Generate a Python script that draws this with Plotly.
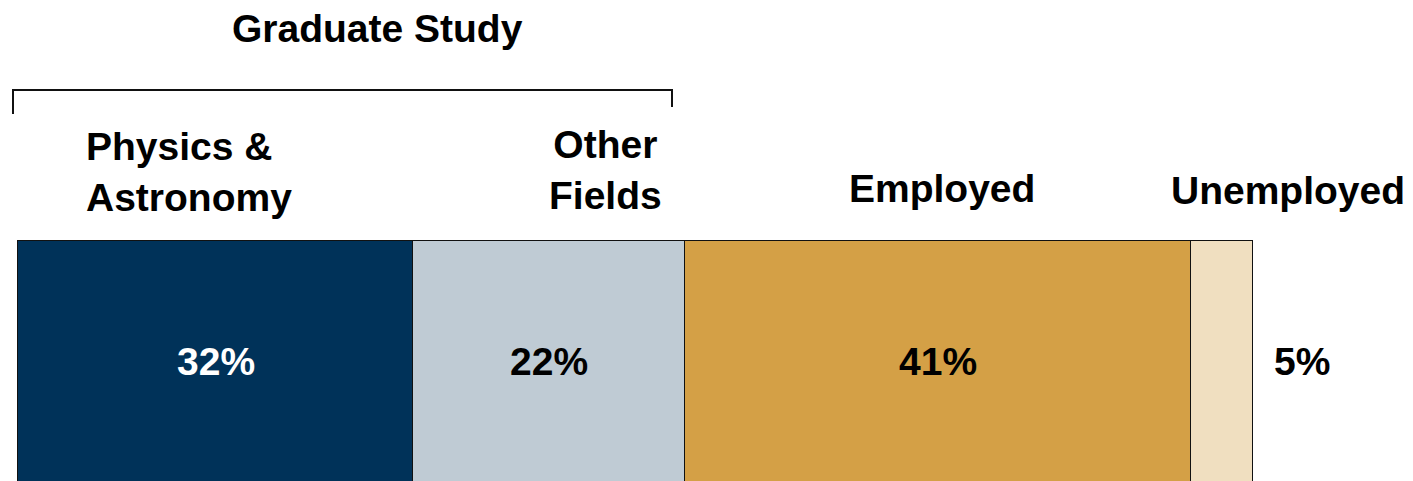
import plotly.graph_objects as go

categories = ["Physics & Astronomy", "Other Fields", "Employed", "Unemployed"]
header_labels = ["Physics &<br>Astronomy", "Other<br>Fields", "Employed", "Unemployed"]
values = [32, 22, 41, 5]
value_labels = ["32%", "22%", "41%", "5%"]
colors = ["#003259", "#BFCBD4", "#D4A046", "#F0DFC0"]
label_colors = ["#FFFFFF", "#000000", "#000000", "#000000"]
group_title = "Graduate Study"

W, H = 1413, 481
OFF = 8  # page offset of the figure
px_per_unit = 12.35
x0_px = 18

def px2x(p):
    return (p - x0_px) / px_per_unit

xmin = px2x(OFF)
xmax = px2x(W + OFF)

FONT = "Liberation Sans, Arial, sans-serif"
FS = 39

fig = go.Figure()
for cat, v, c in zip(categories, values, colors):
    fig.add_trace(go.Bar(
        x=[v], y=[381], width=[280], orientation="h", name=cat,
        marker=dict(color=c, line=dict(color="#111111", width=1.2)),
        hoverinfo="skip", showlegend=False,
    ))

annotations = []
start = 0
for i, (v, lab, lc) in enumerate(zip(values, value_labels, label_colors)):
    if i < len(values) - 1:
        xc = start + v / 2
    else:
        xc = start + v + 4
    annotations.append(dict(x=xc, y=361, xref="x", yref="y", text=lab, showarrow=False,
                            font=dict(family=FONT, size=FS, color=lc, weight="bold"),
                            xanchor="center", yanchor="middle"))
    start += v

hf = dict(family=FONT, size=FS, color="#000", weight="bold")
annotations.append(dict(x=px2x(84), y=172, xref="x", yref="y", text=header_labels[0], showarrow=False,
                        align="left", xanchor="left", yanchor="middle", font=hf))
annotations.append(dict(x=px2x(605), y=170, xref="x", yref="y", text=header_labels[1], showarrow=False,
                        align="center", xanchor="center", yanchor="middle", font=hf))
annotations.append(dict(x=px2x(942), y=188, xref="x", yref="y", text=header_labels[2], showarrow=False,
                        xanchor="center", yanchor="middle", font=hf))
annotations.append(dict(x=px2x(1288), y=190, xref="x", yref="y", text=header_labels[3], showarrow=False,
                        xanchor="center", yanchor="middle", font=hf))
annotations.append(dict(x=px2x(377), y=28, xref="x", yref="y", text=group_title, showarrow=False,
                        xanchor="center", yanchor="middle", font=hf))

line = dict(color="#111111", width=2)
shapes = [
    dict(type="line", xref="x", yref="y", x0=px2x(13), x1=px2x(672), y0=90, y1=90, line=line),
    dict(type="line", xref="x", yref="y", x0=px2x(13), x1=px2x(13), y0=89, y1=114, line=line),
    dict(type="line", xref="x", yref="y", x0=px2x(672), x1=px2x(672), y0=89, y1=107, line=line),
]

fig.update_layout(
    width=W, height=H, barmode="stack", bargap=0,
    margin=dict(l=0, r=0, t=0, b=0),
    paper_bgcolor="white", plot_bgcolor="white",
    xaxis=dict(range=[xmin, xmax], visible=False, fixedrange=True),
    yaxis=dict(range=[H + OFF, OFF], visible=False, fixedrange=True),
    annotations=annotations, shapes=shapes,
)

fig.write_html("out.html")
